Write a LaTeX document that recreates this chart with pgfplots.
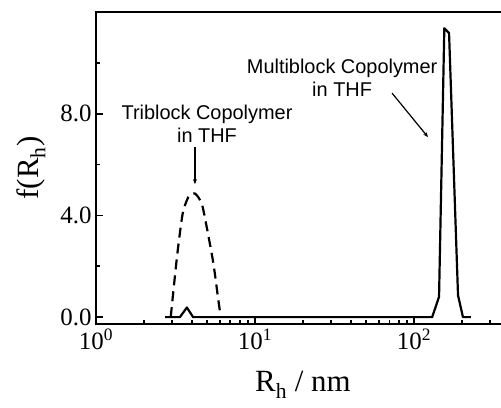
\documentclass[border=0pt]{standalone}
\usepackage{fontspec}
\setmainfont{Liberation Serif}
\newfontfamily\arial{Liberation Sans}
\usepackage{pgfplots}
\pgfplotsset{compat=1.18}
\usetikzlibrary{arrows.meta}

\begin{document}
\begin{tikzpicture}
\begin{axis}[
    name=ax,
    xmode=log,
    scale only axis,
    width=413.8bp, height=312bp,
    xmin=1, xmax=400,
    ymin=-0.27, ymax=12,
    clip=false,
    axis line style={line width=2.4bp},
    every tick/.style={line width=1.8bp, black},
    tick align=inside,
    xtick pos=bottom, ytick pos=left,
    major tick length=7bp, minor tick length=4bp,
    xtick={1,10,100},
    xticklabels={10\textsuperscript{0},10\textsuperscript{1},10\textsuperscript{2}},
    minor xtick={2,3,4,5,6,7,8,9,20,30,40,50,60,70,80,90,200,300},
    ytick={0,4,8},
    minor ytick={2,6,10},
    /pgf/number format/assume math mode=true,
    yticklabel style={/pgf/number format/fixed, /pgf/number format/fixed zerofill, /pgf/number format/precision=1},
    tick label style={font=\fontsize{25}{29}\selectfont},
    xticklabel style={yshift=-1bp},
    yticklabel style={xshift=-1bp},
    xlabel={R\textsubscript{h} / nm},
    ylabel={f(R\textsubscript{h})},
    label style={font=\fontsize{31}{35}\selectfont},
    xlabel style={yshift=-15bp},
    ylabel style={yshift=8bp},
]

% Multiblock copolymer in THF (solid)
\addplot[black, line width=2.2bp, line join=round] coordinates {
    (2.72,0) (3.37,0) (3.73,0.38) (4.08,0) (130,0) (143.6,0.8)
    (155,11.36) (166,11.17) (189,0.86) (203,0) (228,0)
};

% Triblock copolymer in THF (dashed)
\addplot[black, line width=2.2bp, dash pattern=on 10bp off 6bp, smooth, tension=0.4] coordinates {
    (2.95,0) (3.04,0.8) (3.25,2.51) (3.51,4.08) (3.81,4.72) (4.19,4.86)
    (4.62,4.47) (4.97,3.54) (5.47,2.12) (5.88,0.67) (6.09,0)
};

\node[font=\arial\fontsize{20}{23}\selectfont, align=center] at (axis cs:35.3,9.42)
    {Multiblock Copolymer\\in THF};
\node[font=\arial\fontsize{20}{23}\selectfont, align=center] at (axis cs:4.99,7.61)
    {Triblock Copolymer\\in THF};
\draw[line width=1.2bp, -{Stealth[length=5bp, width=4bp]}] (axis cs:72.7,8.81) -- (axis cs:122.4,7.08);
\draw[line width=1.2bp, -{Stealth[length=5bp, width=4bp]}] (axis cs:4.19,6.68) -- (axis cs:4.19,5.23);
\end{axis}
\pgfresetboundingbox
\path[use as bounding box] ([xshift=-96bp,yshift=-84bp]ax.south west) rectangle ([xshift=405bp,yshift=324bp]ax.south west);
\end{tikzpicture}
\end{document}
